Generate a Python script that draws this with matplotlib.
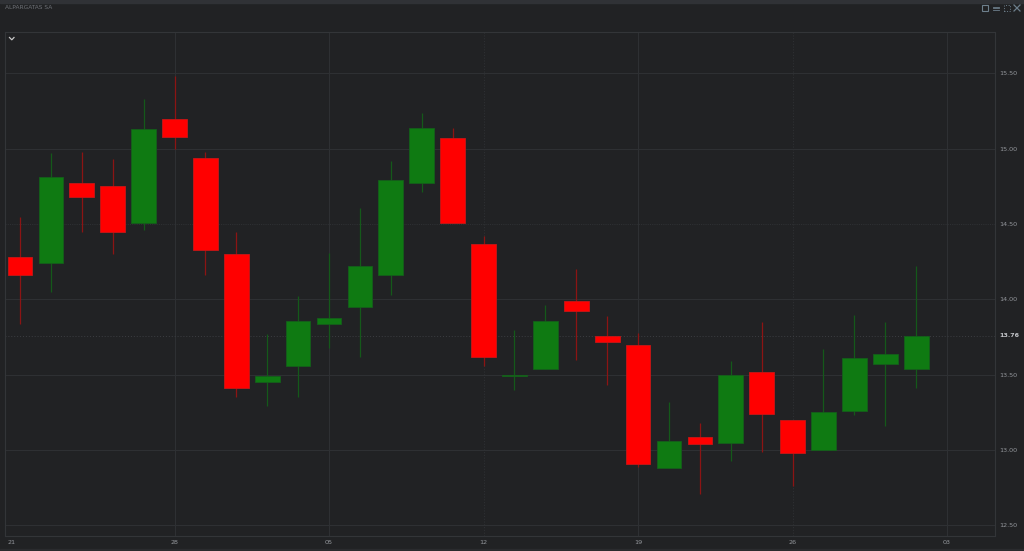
import matplotlib
matplotlib.use("Agg")
import matplotlib.pyplot as plt
from matplotlib.patches import Rectangle
import numpy as np

title = "ALPARGATAS SA"
last_price = 13.76

# open/close/high/low
opens = [14.28, 14.24, 14.77, 14.75, 14.51, 15.20, 14.94, 14.30, 13.45, 13.56,
         13.84, 13.95, 14.16, 14.77, 15.07, 14.37, 13.49, 13.54, 13.99, 13.76,
         13.70, 12.88, 13.09, 13.05, 13.52, 13.20, 13.00, 13.26, 13.57, 13.54]
closes = [14.16, 14.81, 14.68, 14.45, 15.13, 15.08, 14.33, 13.41, 13.49, 13.86,
          13.88, 14.22, 14.79, 15.14, 14.51, 13.62, 13.50, 13.86, 13.92, 13.72,
          12.91, 13.06, 13.04, 13.50, 13.24, 12.98, 13.25, 13.61, 13.64, 13.76]
highs = [14.55, 14.97, 14.98, 14.93, 15.33, 15.48, 14.98, 14.45, 13.77, 14.02,
         14.31, 14.61, 14.92, 15.24, 15.14, 14.42, 13.80, 13.96, 14.20, 13.89,
         13.78, 13.32, 13.18, 13.59, 13.85, 13.20, 13.67, 13.90, 13.85, 14.22]
lows = [13.84, 14.05, 14.45, 14.30, 14.46, 15.00, 14.16, 13.35, 13.29, 13.35,
        13.68, 13.62, 14.03, 14.71, 14.51, 13.56, 13.40, 13.54, 13.60, 13.43,
        12.89, 12.88, 12.71, 12.93, 12.99, 12.76, 13.00, 13.23, 13.16, 13.41]

y_ticks = [12.5, 13.0, 13.5, 14.0, 14.5, 15.0, 15.5]
x_ticks = [5, 10, 15, 20, 25, 30]
x_labels = ["28", "05", "12", "19", "26", "03"]

bg = "#212224"
grid = "#2e3033"
text_col = "#94979c"
red = "#ff0000"
green = "#0f7a12"
red_edge = "#c81616"
green_edge = "#145f1a"
red_wick = "#8c1414"
green_wick = "#14591a"

W, H = 1024, 551
fig = plt.figure(figsize=(W / 100, H / 100), dpi=100, facecolor=bg)

# window header strip
fig.patches.append(Rectangle((0, 1 - 3 / H), 1, 3 / H, transform=fig.transFigure, color="#303236", zorder=0))
fig.patches.append(Rectangle((0, 0), 1, 2 / H, transform=fig.transFigure, color="#2a2b2e", zorder=0))
fig.text(5 / W, 1 - 7.5 / H, title, color="#6f7278", fontsize=4.2, va="center", ha="left")

ax = fig.add_axes([5 / W, 1 - 536 / H, 990 / W, 504 / H], facecolor=bg)
ax.set_xlim(-0.485, 31.55)
ax.set_ylim(12.43, 15.775)

ax.set_yticks(y_ticks)
ax.set_yticklabels(["%.2f" % v for v in y_ticks])
ax.yaxis.tick_right()
ax.set_xticks(x_ticks)
ax.set_xticklabels(x_labels)
ax.tick_params(length=0, colors=text_col, labelsize=4.6, pad=3)
ax.grid(True, color=grid, linewidth=0.8)
ax.set_axisbelow(True)
# a few grid lines are dotted in the original
ax.get_ygridlines()[y_ticks.index(14.5)].set_linestyle((0, (1, 1)))
ax.get_xgridlines()[x_labels.index("12")].set_linestyle((0, (1, 1.5)))
ax.get_xgridlines()[x_labels.index("26")].set_linestyle((0, (1, 1.5)))

for name, spine in ax.spines.items():
    spine.set_color("#333538")
    spine.set_linewidth(0.8)
    spine.set_linestyle((0, (1, 1)) if name in ("bottom", "right") else "-")

ax.annotate("21", xy=(0, 0), xycoords="axes fraction", xytext=(2, -3), textcoords="offset points",
            color=text_col, fontsize=4.6, ha="left", va="top")

# candles
xs = np.arange(len(opens))
for x, o, c, h, l in zip(xs, opens, closes, highs, lows):
    up = c >= o
    ax.vlines(x, l, h, color=green_wick if up else red_wick, linewidth=0.9, zorder=2)
    ax.add_patch(Rectangle((x - 0.4, min(o, c)), 0.8, abs(c - o), facecolor=green if up else red,
                           edgecolor=green_edge if up else red_edge, linewidth=0.6, zorder=3))

# last price marker
ax.axhline(last_price, color="#3c3e42", linewidth=0.7, linestyle=(0, (1, 2)), zorder=1)
ax.annotate("%.2f" % last_price, xy=(1, last_price), xycoords=("axes fraction", "data"), xytext=(3, 0),
            textcoords="offset points", color="#c4c6ca", fontsize=4.6, fontweight="bold", va="center")

# small chevron in the corner of the plot
fig.add_artist(plt.Line2D([9.5 / W, 11.8 / W, 14 / W], [1 - 37.5 / H, 1 - 39.8 / H, 1 - 37.5 / H],
                          color="#c8c8c8", linewidth=0.9))

# window buttons, top right
icon = "#6d7f8c"
fig.patches.append(Rectangle((982 / W, 1 - 11 / H), 6 / W, 6 / H, transform=fig.transFigure, fill=False,
                             edgecolor=icon, linewidth=0.8))
for yy in (6.5, 8, 9.5):
    fig.add_artist(plt.Line2D([993 / W, 999 / W], [1 - yy / H, 1 - yy / H], color=icon, linewidth=0.6))
fig.patches.append(Rectangle((1004 / W, 1 - 11 / H), 6 / W, 6 / H, transform=fig.transFigure, fill=False,
                             edgecolor=icon, linewidth=0.7, linestyle=":"))
fig.add_artist(plt.Line2D([1014 / W, 1020 / W], [1 - 5 / H, 1 - 11 / H], color=icon, linewidth=0.9))
fig.add_artist(plt.Line2D([1014 / W, 1020 / W], [1 - 11 / H, 1 - 5 / H], color=icon, linewidth=0.9))

fig.savefig("out.png", dpi=100, facecolor=bg)
